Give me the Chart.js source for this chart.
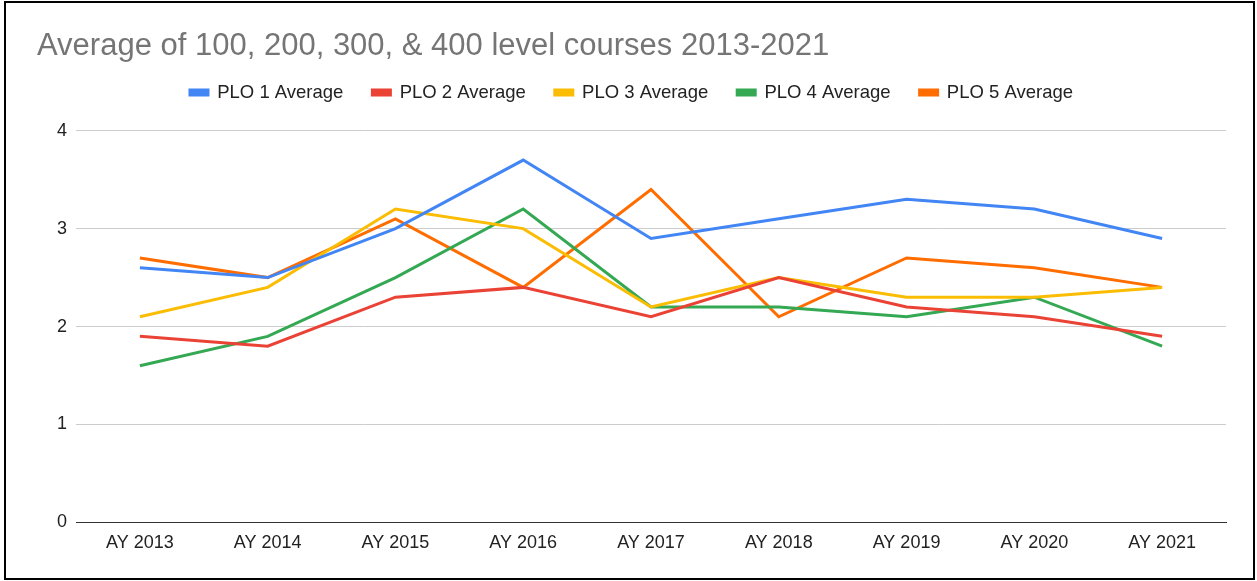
<!DOCTYPE html>
<html>
<head>
<meta charset="utf-8">
<script src="https://cdn.jsdelivr.net/npm/chart.js@4/dist/chart.umd.min.js"></script>
<style>
  html, body { margin: 0; padding: 0; background: #fff; }
  #frame {
    position: absolute; left: 4px; top: 1px;
    width: 1251px; height: 579px;
    box-sizing: border-box; border: 2px solid #000;
  }
  #frame canvas { display: block; }
</style>
</head>
<body>
<div id="frame"><canvas id="ploChart" width="1247" height="575"></canvas></div>
<script>
// === Chart data ===
const years = ["AY 2013", "AY 2014", "AY 2015", "AY 2016", "AY 2017", "AY 2018", "AY 2019", "AY 2020", "AY 2021"];
const plo1 = [2.6, 2.5, 3.0, 3.7, 2.9, 3.1, 3.3, 3.2, 2.9];
const plo2 = [1.9, 1.8, 2.3, 2.4, 2.1, 2.5, 2.2, 2.1, 1.9];
const plo3 = [2.1, 2.4, 3.2, 3.0, 2.2, 2.5, 2.3, 2.3, 2.4];
const plo4 = [1.6, 1.9, 2.5, 3.2, 2.2, 2.2, 2.1, 2.3, 1.8];
const plo5 = [2.7, 2.5, 3.1, 2.4, 3.4, 2.1, 2.7, 2.6, 2.4];
const seriesNames = ["PLO 1 Average", "PLO 2 Average", "PLO 3 Average", "PLO 4 Average", "PLO 5 Average"];
const seriesColors = ["#4285f4", "#ea4335", "#fbbc04", "#34a853", "#ff6d01"];
const yTicks = [0, 1, 2, 3, 4];

const FONT = "Arial, 'Liberation Sans', sans-serif";

function makeSet(i, values) {
  return {
    label: seriesNames[i],
    data: values,
    borderColor: seriesColors[i],
    backgroundColor: seriesColors[i],
    borderWidth: 3,
    pointRadius: 0,
    pointHoverRadius: 0,
    tension: 0,
    fill: false
  };
}

// push the plot area down a bit below the legend
const legendGap = {
  id: "legendGap",
  afterInit(chart) {
    const fit = chart.legend.fit;
    chart.legend.fit = function () {
      fit.call(this);
      this.height += 19;
    };
  }
};

const ctx = document.getElementById("ploChart").getContext("2d");

new Chart(ctx, {
  type: "line",
  data: {
    labels: years,
    datasets: [
      makeSet(0, plo1),
      makeSet(1, plo2),
      makeSet(2, plo3),
      makeSet(3, plo4),
      makeSet(4, plo5)
    ]
  },
  plugins: [legendGap],
  options: {
    responsive: false,
    animation: false,
    layout: { padding: { left: 31, right: 27, top: 0, bottom: 14 } },
    plugins: {
      title: {
        display: true,
        text: "Average of 100, 200, 300, & 400 level courses 2013-2021",
        align: "start",
        color: "#757575",
        font: { family: FONT, size: 31, weight: "normal" },
        padding: { top: 25, bottom: -11 }
      },
      legend: {
        display: true,
        position: "top",
        align: "center",
        labels: {
          color: "#222",
          font: { family: FONT, size: 18.5 },
          boxWidth: 18,
          boxHeight: 5,
          padding: 29
        }
      },
      tooltip: { enabled: false }
    },
    scales: {
      x: {
        offset: true,
        grid: { display: false, drawTicks: false },
        border: { display: true, color: "#333", width: 1 },
        ticks: {
          color: "#222",
          font: { family: FONT, size: 18 },
          padding: 10,
          maxRotation: 0
        }
      },
      y: {
        min: 0,
        max: 4,
        afterFit: (scale) => { scale.width = 39; },
        afterBuildTicks: (scale) => { scale.ticks = yTicks.map(v => ({ value: v })); },
        grid: {
          color: (c) => c.tick && c.tick.value === 0 ? "#333" : "#cccccc",
          lineWidth: 1,
          drawTicks: false
        },
        border: { display: false },
        ticks: {
          color: "#222",
          font: { family: FONT, size: 18 },
          padding: 9
        }
      }
    }
  }
});
</script>
</body>
</html>
